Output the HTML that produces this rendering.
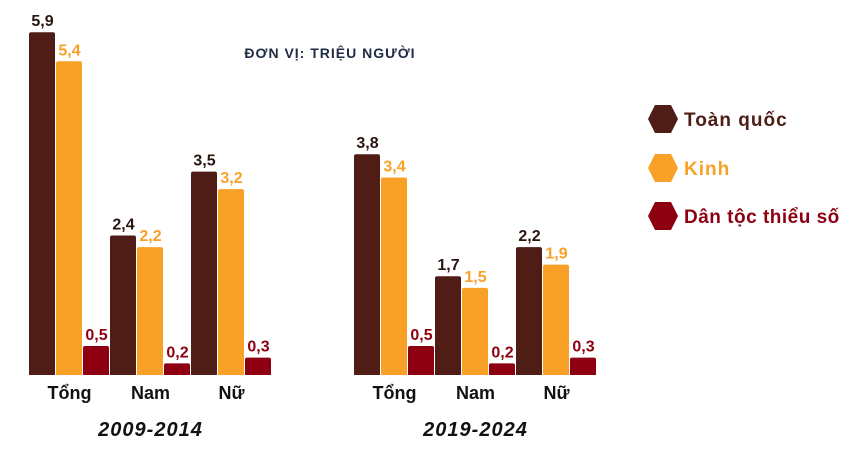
<!DOCTYPE html>
<html><head><meta charset="utf-8"><style>
body{margin:0;background:#fff;width:859px;height:457px;overflow:hidden;font-family:"Liberation Sans","Noto Sans CJK SC",sans-serif}
svg text{font-family:"Liberation Sans","Noto Sans CJK SC",sans-serif}
</style></head><body>
<svg id="chart" width="859" height="457">
<text x="330" y="58" text-anchor="middle" font-size="14" font-weight="bold" fill="#1f2a44" letter-spacing="1">ĐƠN VỊ: TRIỆU NGƯỜI</text>
<g>
<g><polygon points="648,119 655,105 671,105 678,119 671,133 655,133" fill="#4f1c16"/><text x="684" y="126" font-size="19" font-weight="bold" fill="#4f1c16" letter-spacing="1">Toàn quốc</text></g>
<g><polygon points="648,168 655,154 671,154 678,168 671,182 655,182" fill="#f9a127"/><text x="684" y="175" font-size="19" font-weight="bold" fill="#f9a127" letter-spacing="1">Kinh</text></g>
<g><polygon points="648,216 655,202 671,202 678,216 671,230 655,230" fill="#8e0011"/><text x="684" y="223" font-size="19" font-weight="bold" fill="#8e0011" letter-spacing="0.5">Dân tộc thiểu số</text></g>
</g>
</svg>
<script>
const periods=["2009-2014","2019-2024"];
const categories=["Tổng","Nam","Nữ"];
const toanQuoc=[[5.9,2.4,3.5],[3.8,1.7,2.2]];
const kinh=[[5.4,2.2,3.2],[3.4,1.5,1.9]];
const dtts=[[0.5,0.2,0.3],[0.5,0.2,0.3]];
const labels=[["5,9","2,4","3,5"],["3,8","1,7","2,2"]];
const labelsKinh=[["5,4","2,2","3,2"],["3,4","1,5","1,9"]];
const labelsD=[["0,5","0,2","0,3"],["0,5","0,2","0,3"]];
const svg=document.getElementById('chart');const NS="http://www.w3.org/2000/svg";
const base=375,scale=58.1,bw=27,groupStart=[29,354];
function y(v){return base-v*scale;}
function mk(t,a){const e=document.createElementNS(NS,t);for(const k in a)e.setAttribute(k,a[k]);svg.appendChild(e);return e;}
const series=[[toanQuoc,labels,"#4f1c16","#2a1410"],[kinh,labelsKinh,"#f9a127","#f9a127"],[dtts,labelsD,"#8e0011","#8e0011"]];
periods.forEach((p,pi)=>{
 categories.forEach((c,ci)=>{
  const gx=groupStart[pi]+ci*bw*3;
  series.forEach((s,si)=>{
   const v=s[0][pi][ci];const x=gx+si*bw;
   const r=mk('path',{d:`M${x},${base} V${y(v)+2} Q${x},${y(v)} ${x+2},${y(v)} H${x+bw-3} Q${x+bw-1},${y(v)} ${x+bw-1},${y(v)+2} V${base} Z`,fill:s[2]});
   
   
   const t=mk('text',{x:x+bw/2,y:y(v)-6,'text-anchor':'middle','font-size':'16','font-weight':'bold',fill:s[3]});
   t.textContent=s[1][pi][ci];
   
   
  });
  const ct=mk('text',{x:gx+bw*1.5,y:399,'text-anchor':'middle','font-size':'18','font-weight':'bold',fill:'#111'});
  ct.textContent=c;
  
  
 });
 const pt=mk('text',{x:groupStart[pi]+bw*4.5,y:436,'text-anchor':'middle','font-size':'20','font-weight':'bold','font-style':'italic',fill:'#111','letter-spacing':'1'});
 pt.textContent=p;
 
 
});
</script>
</body></html>
